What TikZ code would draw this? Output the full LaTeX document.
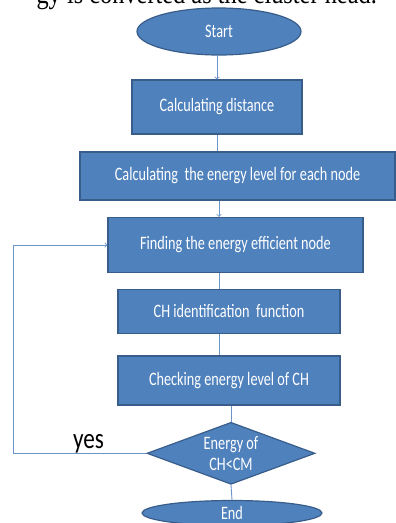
\documentclass[tikz,border=0pt]{standalone}
\usepackage{fontspec}
\setmainfont{Carlito}
\newfontfamily\paperfont{Liberation Serif}
\usepackage{graphicx}
\usepackage{tikz}
\usetikzlibrary{arrows,shapes}
\definecolor{boxblue}{HTML}{4F81BD}
\definecolor{boxedge}{HTML}{385D8A}
\definecolor{lineblue}{HTML}{6A94CA}
\newcommand{\squeeze}[1]{\scalebox{.75}[1]{#1}}
\tikzstyle{stepbox}=[rectangle,draw=boxedge,fill=boxblue,line width=1.2pt,text=white,inner sep=0pt,font=\fontsize{19}{21}\selectfont]
\tikzstyle{terminal}=[ellipse,draw=boxedge,fill=boxblue,line width=1.2pt,text=white,inner sep=0pt,font=\fontsize{19}{21}\selectfont]
\tikzstyle{decision}=[diamond,draw=boxedge,fill=boxblue,line width=1.2pt,text=white,inner sep=0pt,shape aspect=2.7,align=center,font=\fontsize{19}{21}\selectfont]
\tikzstyle{edge} = [draw,line width=0.9pt,lineblue]
\tikzstyle{yeslabel} = [anchor=base,inner sep=0pt,font=\fontsize{29}{30}\selectfont]
\tikzstyle{papertext} = [anchor=base east,inner sep=0pt,font=\paperfont\fontsize{29}{29}\selectfont]

\begin{document}
\begin{tikzpicture}[x=1pt,y=-1pt]

    \useasboundingbox (0,0) rectangle (396,523);
    \clip (0,0) rectangle (396,523);

    \node[papertext] (para) at (377,3.5) {\scalebox{.84}[1]{gy is converted as the cluster head.}};

    \node[terminal, minimum width=164pt, minimum height=47pt] (start) at (219,31.5) {\squeeze{Start}};

     \foreach \x/\y/\w/\h/\name/\txt in {217/107/170/54/dist/{Calculating distance},
        237.5/176/315/48/energy/{Calculating~ the energy level for each node},
        235.5/245/255/55/find/{Finding the energy efficient node},
        229/311.3/222/44/ident/{CH identification~ function},
        229/380.5/222/49/check/{Checking energy level of CH}}
        \node[stepbox, minimum width=\w pt, minimum height=\h pt] (\name) at (\x,\y) {\squeeze{\txt}};

    \node[decision, minimum width=168pt, minimum height=62pt] (test) at (231,453.3) {\squeeze{Energy of}\\\squeeze{CH<CM}};

    \node[terminal, minimum width=180pt, minimum height=25pt] (end) at (232,513) {\squeeze{End}};

    % main line
    \path[edge,->] (start.south -| dist.north) -- (dist.north);
    \path[edge] (dist.south) -- (dist.south |- energy.north);
    \path[edge,->] (energy.south -| start.south) -- (find.north -| start.south);
    \path[edge] (find.south -| start.south) -- (ident.north -| start.south);
    \path[edge] (ident.south -| start.south) -- (check.north -| start.south);
    \path[edge] (check.south -| test.north) -- (test.north);
    \path[edge] (test.south) -- (end.north);

    % back to find
    \coordinate (back) at (13,453.3);
    \path[edge,->] (test.west) -- (back) |- (find.west);
    \node[yeslabel] (yes) at (88.5,448) {\scalebox{.8}[1]{yes}};

\end{tikzpicture}
\end{document}
